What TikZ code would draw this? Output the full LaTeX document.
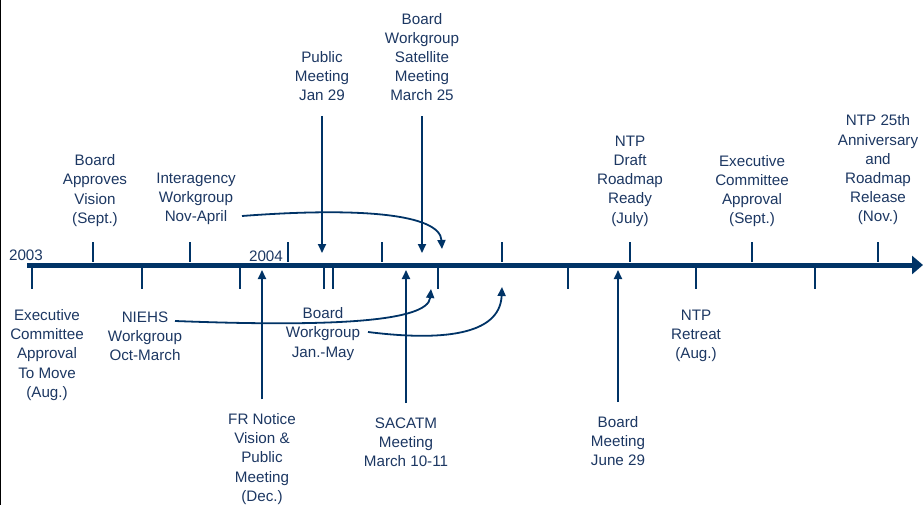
\documentclass[tikz,border=0pt]{standalone}
\usepackage{fontspec}
\setmainfont{Liberation Sans}
\usetikzlibrary{arrows.meta}
\definecolor{navy}{RGB}{0,51,102}
\definecolor{inkblue}{RGB}{28,55,98}
\tikzstyle{event}=[align=center, text=inkblue, inner sep=0pt, font=\fontsize{15.2}{19.2}\selectfont]
\tikzstyle{year}=[text=inkblue, inner sep=0pt, font=\fontsize{15.2}{19.2}\selectfont]
\tikzstyle{notch}=[draw=navy, line width=1.3pt]
\tikzstyle{pointer}=[draw=navy, line width=1.8pt, -{Triangle[width=8pt,length=9pt]}]
\tikzstyle{timeaxis}=[draw=navy, line width=5pt, -{Triangle[width=18pt,length=11pt]}]

\begin{document}
\begin{tikzpicture}[x=1pt, y=-1pt]
  \useasboundingbox (0,0) rectangle (923,505);
  \draw[black, line width=1.2pt] (0.6,0) -- (0.6,505);

  %% Time axis
  \coordinate (A0) at (27,265);
  \coordinate (A1) at (923,265);
  \draw[timeaxis] (A0) -- (A1);

  %%% Ticks above
  \draw[notch] (93,242) -- (93,262);
  \draw[notch] (190,242) -- (190,262);
  \draw[notch] (288,242) -- (288,262);
  \draw[notch] (382,242) -- (382,262);
  \draw[notch] (502,242) -- (502,262);
  \draw[notch] (630,242) -- (630,262);
  \draw[notch] (752,242) -- (752,262);
  \draw[notch] (878,242) -- (878,262);

  %%% Ticks below
  \draw[notch] (32,268) -- (32,289);
  \draw[notch] (142,268) -- (142,289);
  \draw[notch] (240,268) -- (240,289);
  \draw[notch] (324,268) -- (324,289);
  \draw[notch] (333,268) -- (333,289);
  \draw[notch] (438,268) -- (438,289);
  \draw[notch] (568,268) -- (568,289);
  \draw[notch] (696,268) -- (696,289);
  \draw[notch] (815,268) -- (815,289);

  %% Years
  \draw (26,255) node[year] (Y2003) {2003};
  \draw (266,256) node[year] (Y2004) {2004};

  %% Events above the axis
  \draw (95,190.5) node[event] (BAV) {Board\\Approves\\Vision\\(Sept.)};
  \draw (196,199) node[event] (IAW) {Interagency\\Workgroup\\Nov-April};
  \draw (322,76) node[event] (PUB) {Public\\Meeting\\Jan 29};
  \draw (422,57) node[event] (SAT) {Board\\Workgroup\\Satellite\\Meeting\\March 25};
  \draw (630,181) node[event] (NDR) {NTP\\Draft\\Roadmap\\Ready\\(July)};
  \draw (752,191) node[event] (ECA) {Executive\\Committee\\Approval\\(Sept.)};
  \draw (878,170) node[event] (ANN) {NTP 25th\\Anniversary\\and\\Roadmap\\Release\\(Nov.)};

  %% Events below the axis
  \draw (47,355) node[event] (ECM) {Executive\\Committee\\Approval\\To Move\\(Aug.)};
  \draw (145,336) node[event] (NWG) {NIEHS\\Workgroup\\Oct-March};
  \draw (323,334) node[event] (BWG) {Board\\Workgroup\\Jan.-May};
  \draw (262,459) node[event] (FRN) {FR Notice\\Vision \&\\Public\\Meeting\\(Dec.)};
  \draw (406,442) node[event] (SAC) {SACATM\\Meeting\\March 10-11};
  \draw (696,336) node[event] (RET) {NTP\\Retreat\\(Aug.)};
  \draw (618,441) node[event] (BMJ) {Board\\Meeting\\June 29};

  %% Arrow ends
  \coordinate (PUBend) at (322,253);
  \coordinate (SATend) at (422,253);
  \coordinate (FRNend) at (262,270);
  \coordinate (SACend) at (406,270);
  \coordinate (BMJend) at (618,270);
  \coordinate (IAWfrom) at (242,216);
  \coordinate (IAWend) at (442,249);
  \coordinate (NWGfrom) at (175,321);
  \coordinate (NWGend) at (431,289);
  \coordinate (BWGfrom) at (368,332);
  \coordinate (BWGend) at (502,287);

  \draw[pointer, shorten <=15pt] (PUB.south) -- (PUBend);
  \draw[pointer, shorten <=15pt] (SAT.south) -- (SATend);
  \draw[pointer, shorten <=14pt] (FRN.north) -- (FRNend);
  \draw[pointer, shorten <=14pt] (SAC.north) -- (SACend);
  \draw[pointer, shorten <=14pt] (BMJ.north) -- (BMJend);

  \draw[pointer] (IAWfrom) .. controls (360,207) and (440,214) .. (IAWend);
  \draw[pointer] (NWGfrom) .. controls (330,327) and (428,322) .. (NWGend);
  \draw[pointer] (BWGfrom) .. controls (440,341) and (500,336) .. (BWGend);
\end{tikzpicture}
\end{document}
